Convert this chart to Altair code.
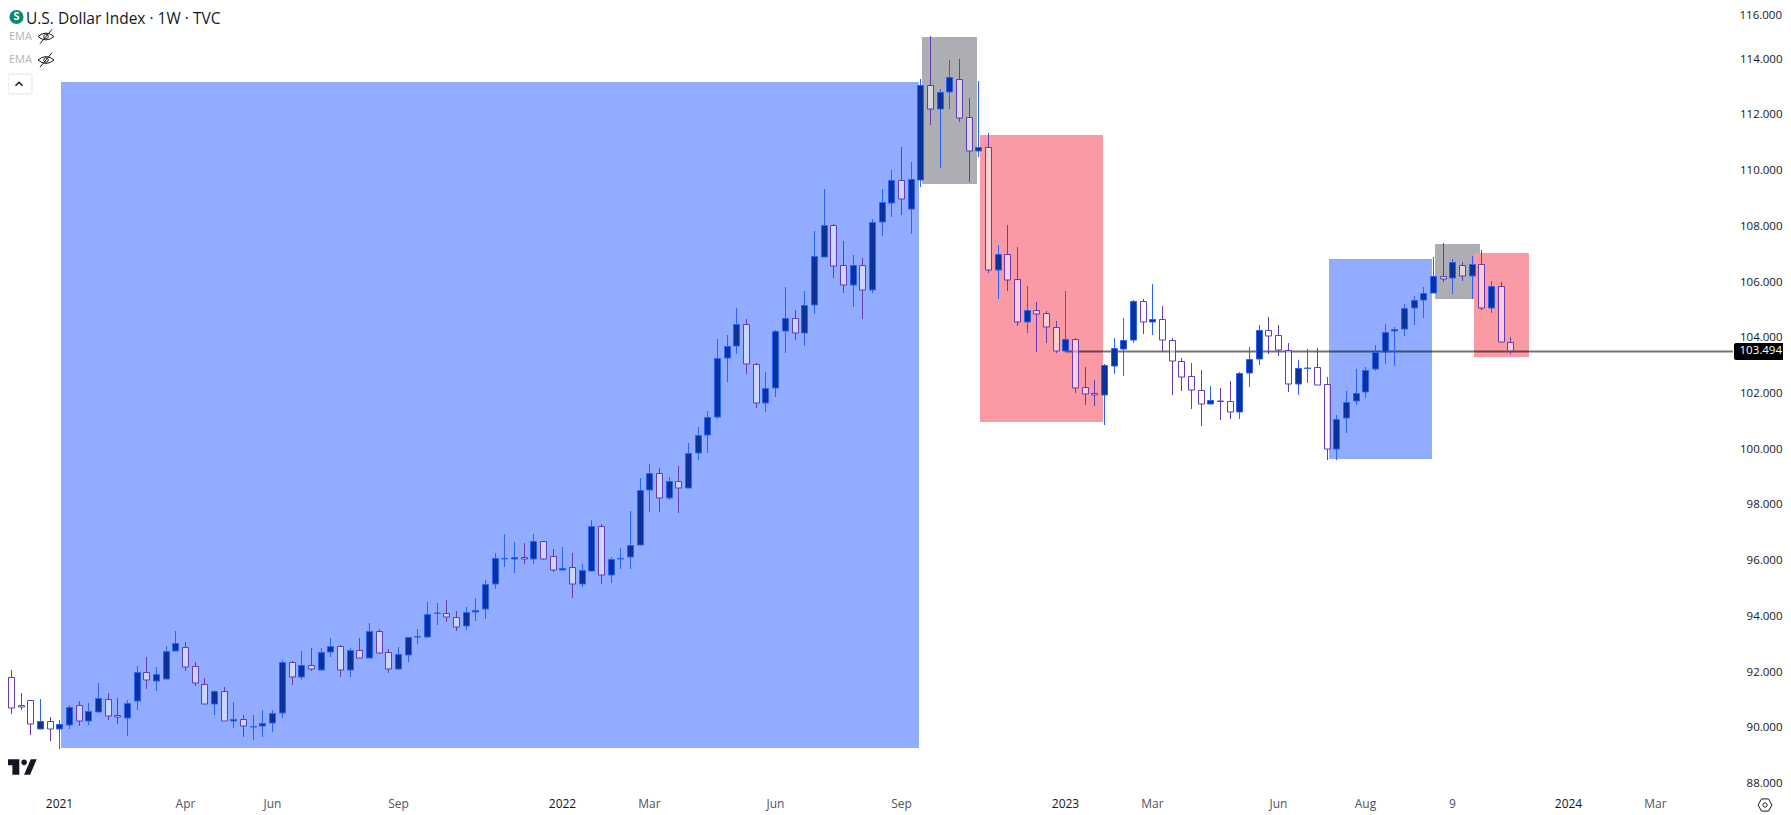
import altair as alt
import pandas as pd

opens = [92.41,91.79,90.80,90.97,89.93,90.21,89.93,90.07,90.79,90.21,90.54,91.00,90.43,90.32,90.93,91.97,91.65,91.72,92.73,92.87,
92.19,91.54,90.82,91.29,90.21,90.28,90.02,90.03,90.14,90.50,92.33,91.79,92.22,92.07,92.69,92.90,92.07,92.76,92.50,93.44,
92.69,92.10,92.61,93.25,93.25,94.09,94.09,93.95,93.65,94.13,94.23,95.13,96.05,96.05,96.12,96.05,96.67,96.14,95.66,95.74,
95.15,95.62,97.21,95.48,96.04,96.10,96.53,98.50,99.11,98.24,98.83,98.58,99.83,100.50,101.12,103.24,103.67,104.46,103.03,101.63,
102.17,104.21,104.68,104.14,105.14,106.89,108.02,106.58,105.86,106.58,105.68,108.13,108.83,109.63,108.62,109.66,113.04,112.21,112.79,113.26,
111.90,110.70,110.82,106.43,106.98,106.08,104.53,104.97,104.86,104.36,103.49,103.93,102.20,101.99,101.94,102.98,103.59,103.89,105.29,104.53,
104.64,103.89,103.13,102.60,102.09,101.59,101.72,101.70,101.30,102.70,103.21,104.25,104.07,103.56,102.31,102.88,102.92,102.31,99.98,101.09,
101.70,102.02,102.85,103.46,104.21,104.28,105.06,105.33,105.58,106.19,106.12,106.58,106.19,106.62,105.06,105.83,103.82]
highs = [92.81,92.06,91.23,90.97,91.01,90.36,90.26,90.80,90.94,90.87,91.59,91.23,91.05,90.98,92.20,92.52,92.16,92.92,93.46,93.06,
92.33,91.77,91.34,91.45,90.91,90.44,90.44,90.62,90.62,92.41,92.38,92.74,92.84,92.85,93.20,92.95,92.85,93.20,93.74,93.53,
92.81,92.88,93.23,93.53,94.50,94.46,94.57,94.17,94.32,94.64,95.29,96.26,96.94,96.65,96.61,96.94,96.67,96.40,96.47,96.26,
95.86,97.44,97.30,96.11,96.45,97.76,98.95,99.45,99.31,98.98,99.38,100.20,100.78,101.35,103.94,104.08,105.05,104.65,103.08,102.75,
104.26,105.80,104.98,105.66,107.82,109.32,108.07,107.45,106.95,106.84,108.25,109.32,110.01,110.83,110.29,113.27,114.82,112.91,113.95,113.99,
112.59,113.20,111.33,107.31,108.03,107.24,105.84,105.27,104.94,104.59,105.66,103.98,102.93,102.47,103.04,103.98,104.69,105.34,105.37,105.91,
105.12,103.97,103.25,103.07,102.82,102.25,102.18,102.43,102.75,103.65,104.44,104.73,104.44,103.79,103.18,103.58,103.61,102.57,101.20,102.07,
102.86,102.93,103.72,104.48,104.36,105.19,105.48,105.80,106.88,107.38,106.81,106.70,106.92,107.13,106.02,105.98,104.01]
lows = [91.79,90.49,90.63,89.72,89.93,89.52,89.22,89.94,90.05,90.08,90.54,90.26,90.12,89.69,90.62,91.37,91.30,91.72,92.73,92.02,
91.48,90.82,90.44,90.21,89.97,89.65,89.54,89.65,89.83,90.33,91.52,91.71,92.02,92.07,92.52,91.80,91.80,92.50,92.50,92.63,
91.95,92.06,92.34,92.99,93.20,93.67,93.79,93.45,93.49,93.81,93.89,94.96,95.75,95.54,95.86,95.86,96.00,95.57,95.66,94.64,
95.03,95.62,95.14,95.18,95.68,95.68,96.53,97.74,97.74,98.16,97.69,98.58,99.59,99.84,101.06,102.39,103.40,102.68,101.47,101.32,
101.85,103.43,103.90,103.69,104.83,106.89,106.13,105.59,105.09,104.65,105.59,107.64,108.32,108.39,107.71,109.40,111.62,110.08,112.20,111.73,
109.58,110.47,106.31,105.38,105.66,104.41,104.16,103.47,103.80,103.44,103.49,102.00,101.57,101.53,100.85,102.68,102.61,103.80,104.11,104.08,
103.48,101.93,102.07,101.42,100.81,101.59,101.03,101.06,101.06,102.21,103.00,103.40,103.33,102.03,101.93,102.36,102.27,99.59,99.59,100.57,
101.58,101.83,102.80,103.05,102.98,104.04,104.44,104.69,105.58,105.99,105.55,106.02,105.37,104.98,104.87,103.82,103.40]
closes = [91.79,90.68,90.74,90.10,90.21,89.93,90.10,90.72,90.21,90.57,91.04,90.42,90.36,90.86,91.97,91.68,91.90,92.73,93.01,92.15,
91.60,90.82,91.29,90.21,90.28,90.03,90.03,90.14,90.50,92.33,91.79,92.22,92.08,92.69,92.90,92.07,92.76,92.50,93.44,92.68,
92.10,92.62,93.23,93.26,94.05,94.10,93.95,93.61,94.13,94.20,95.13,96.06,96.06,96.12,96.05,96.67,96.05,95.66,95.73,95.15,
95.63,97.21,95.48,96.03,96.09,96.53,98.50,99.11,98.22,98.83,98.58,99.83,100.50,101.12,103.24,103.67,104.46,103.03,101.63,102.17,
104.21,104.68,104.14,105.14,106.90,108.02,106.54,105.86,106.58,105.68,108.13,108.84,109.63,108.98,109.67,113.04,112.21,112.79,113.33,111.88,
110.70,110.82,106.43,106.98,106.07,104.53,104.97,104.85,104.35,103.49,103.93,102.19,101.98,101.94,103.00,103.60,103.89,105.29,104.53,104.64,
103.89,103.13,102.58,102.09,101.59,101.73,101.70,101.30,102.70,103.21,104.25,104.05,103.56,102.31,102.88,102.91,102.27,99.98,101.08,101.69,
102.01,102.84,103.46,104.20,104.28,105.06,105.35,105.60,106.19,106.10,106.69,106.19,106.62,105.06,105.83,103.82,103.494]

tick_weeks = [6,19,28,41,58,67,80,93,110,119,132,141,150,162,171]
tick_names = ["2021","Apr","Jun","Sep","2022","Mar","Jun","Sep","2023","Mar","Jun","Aug","9","2024","Mar"]
price_ticks = [88,90,92,94,96,98,100,102,104,106,108,110,112,114]

zone_start = [6.17,95.18,101.18,137.25,148.21,152.24]
zone_end   = [94.87,100.87,113.89,147.90,152.86,157.93]
zone_low   = [89.26,109.50,100.96,99.63,105.37,103.29]
zone_high  = [113.16,114.78,111.26,106.81,107.35,107.02]
zone_color = ["#92ADFF","#ADAEB3","#F99AA4","#92ADFF","#ADAEB3","#F99AA4"]

last_price = 103.494
FONT = "Open Sans"
INK = "#131722"

df = pd.DataFrame({"week": range(len(opens)), "open": opens, "high": highs, "low": lows, "close": closes})
df["top"] = df[["open", "close"]].max(axis=1)
df["bot"] = df[["open", "close"]].min(axis=1)
df["dir"] = ["up" if c >= o else "down" for o, c in zip(opens, closes)]
zones = pd.DataFrame({"a": zone_start, "b": zone_end, "lo": zone_low, "hi": zone_high, "c": zone_color,
                      "order": range(len(zone_start))})

xs = alt.Scale(domain=[0.69, 178.4], nice=False, zero=False, round=True, padding=0)
ys = alt.Scale(domain=[87.713, 115.818], nice=False, zero=False, round=True, padding=0)

names_js = "[" + ",".join(f"'{n}'" for n in tick_names) + "]"
weeks_js = "[" + ",".join(str(w) for w in tick_weeks) + "]"
x_axis = alt.Axis(values=tick_weeks, title=None, grid=False, domain=False, ticks=False, labelAngle=0,
                  labelExpr=f"{names_js}[indexof({weeks_js},datum.value)]", labelFont=FONT, labelFontSize=12,
                  labelPadding=7, labelOverlap=False, labelFlush=False,
                  labelColor={"condition": {"test": "length(" + f"{names_js}[indexof({weeks_js},datum.value)]" + ")==4",
                                            "value": INK}, "value": "#50535E"})
y_axis = alt.Axis(values=price_ticks, orient="right", title=None, grid=False, domain=False, ticks=False,
                  format=".3f", labelFont=FONT, labelFontSize=11.5, labelColor=INK, labelAlign="right",
                  labelPadding=55, labelOverlap=False, labelFlush=False)

X = lambda f, **k: alt.X(f, type="quantitative", scale=xs, axis=x_axis, **k)
Y = lambda f, **k: alt.Y(f, type="quantitative", scale=ys, axis=y_axis, **k)

zone_layer = alt.Chart(zones).mark_rect().encode(
    x=X("a"), x2="b:Q", y=Y("lo"), y2="hi:Q",
    color=alt.Color("c:N", scale=None, legend=None), order="order:Q")

line_df = pd.DataFrame({"a": [110], "b": [179], "p": [last_price]})
price_line = alt.Chart(line_df).mark_rule(color="#000000", opacity=0.55, strokeWidth=2, yOffset=0.5).encode(
    x=X("a"), x2="b:Q", y=Y("p"))

wick_colors = alt.Scale(domain=["up", "down"], range=["#2962FF", "#673AB7"])
upper = alt.Chart(df).mark_rule(strokeWidth=1, xOffset=0.5).encode(
    x=X("week"), y=Y("high"), y2="top:Q", color=alt.Color("dir:N", scale=wick_colors, legend=None))
lower = alt.Chart(df).mark_rule(strokeWidth=1, xOffset=0.5).encode(
    x=X("week"), y=Y("bot"), y2="low:Q", color=alt.Color("dir:N", scale=wick_colors, legend=None))
bodies = alt.Chart(df).mark_bar(size=6, strokeWidth=1, xOffset=0.5, yOffset=0.5).encode(
    x=X("week"), y=Y("top"), y2="bot:Q",
    fill=alt.Fill("dir:N", scale=alt.Scale(domain=["up", "down"], range=["#0A3299", "rgba(255,255,255,0.5)"]), legend=None),
    stroke=alt.Stroke("dir:N", scale=wick_colors, legend=None))

tag_df = pd.DataFrame({"a": [179.1], "b": [185.2], "lo": [last_price - 0.3], "hi": [last_price + 0.3],
                       "tx": [184.08], "p": [last_price], "label": [f"{last_price:.3f}"]})
tag_box = alt.Chart(tag_df).mark_rect(color="#000000", cornerRadius=2).encode(x=X("a"), x2="b:Q", y=Y("lo"), y2="hi:Q")
tag_text = alt.Chart(tag_df).mark_text(color="#FFFFFF", align="right", baseline="middle", font=FONT, fontSize=11.5).encode(
    x=X("tx"), y=Y("p"), text="label:N")

def label(txt, x, y, color=INK, size=12, align="left", **kw):
    return alt.Chart(pd.DataFrame({"t": [txt]})).mark_text(
        color=color, align=align, baseline="middle", font=FONT, fontSize=size, **kw
    ).encode(x=alt.value(x), y=alt.value(y), text="t:N")

def glyph(path, x, y, size, **kw):
    return alt.Chart(pd.DataFrame({"k": [0]})).mark_point(shape=path, size=size, **kw).encode(
        x=alt.value(x), y=alt.value(y))

EYE = ("M-1,0 Q0,-0.85 1,0 Q0,0.85 -1,0 Z M-0.75,0.9 L0.75,-0.9 "
       "M-0.28,0 A0.28,0.28 0 1 0 0.28,0 A0.28,0.28 0 1 0 -0.28,0")
LOGO = ("M-1,-0.51 L-0.16,-0.51 L-0.16,0.51 L-0.62,0.51 L-0.62,-0.11 L-1,-0.11 Z "
        "M-0.03,-0.31 A0.19,0.19 0 1 0 0.35,-0.31 A0.19,0.19 0 1 0 -0.03,-0.31 "
        "M0.6,-0.51 L1,-0.51 L0.56,0.51 L0.16,0.51 Z")
HEX = ("M-1,0 L-0.5,-0.87 L0.5,-0.87 L1,0 L0.5,0.87 L-0.5,0.87 Z "
       "M-0.3,0 A0.3,0.3 0 1 0 0.3,0 A0.3,0.3 0 1 0 -0.3,0")
CHEV = "M-1,0.5 L0,-0.5 L1,0.5"

chrome = [
    glyph("circle", 8.5, 9, 200, filled=True, color="#0B8A73", opacity=1),
    label("S", 8.5, 9, color="#FFFFFF", size=11, align="center", fontWeight="bold"),
    label("U.S. Dollar Index · 1W · TVC", 18, 11, size=15.5),
    label("EMA", 1, 29, color="#B2B5BE", size=11),
    label("EMA", 1, 52, color="#B2B5BE", size=11),
    glyph(EYE, 38, 28.5, 256, color=INK, strokeWidth=1, opacity=1),
    glyph(EYE, 38, 52, 256, color=INK, strokeWidth=1, opacity=1),
    alt.Chart(pd.DataFrame({"k": [0]})).mark_rect(fill="#FFFFFF", stroke="#E0E3EB", cornerRadius=2).encode(
        x=alt.value(0), x2=alt.value(24), y=alt.value(66), y2=alt.value(86)),
    glyph(CHEV, 11, 76, 49, color=INK, strokeWidth=1.5, opacity=1),
    glyph(LOGO, 13.7, 759, 900, filled=True, color=INK, opacity=1),
    glyph(HEX, 1757, 797, 196, color=INK, strokeWidth=1, opacity=1),
    label("116.000", 1774, 8, size=11.5, align="right"),
]

chart = alt.layer(zone_layer, price_line, upper, lower, bodies, tag_box, tag_text, *chrome).resolve_scale(
    color="independent", fill="independent", stroke="independent"
).properties(
    width=1719, height=783,
    autosize=alt.AutoSizeParams(type="none"),
    padding={"left": 0, "top": 0, "right": 56, "bottom": 22},
    background="#FFFFFF",
).configure_view(stroke=None)

chart.save("out.html", embed_options={"renderer": "svg", "actions": False})
